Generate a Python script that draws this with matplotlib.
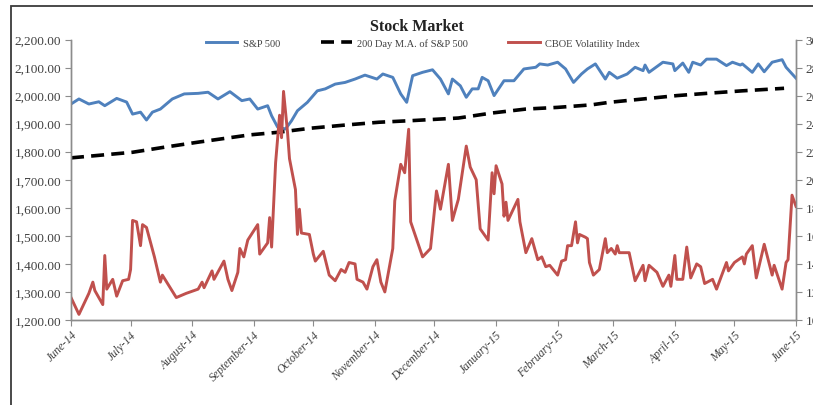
# Stock market: S&P 500, its 200 day moving average and the CBOE volatility index
import numpy as np
import matplotlib
matplotlib.use("Agg")
import matplotlib.pyplot as plt
import matplotlib.dates as mdates
from matplotlib.ticker import FuncFormatter, MultipleLocator
from matplotlib.patches import Rectangle

plt.rcParams['font.family'] = ['Liberation Serif', 'DejaVu Serif']

start = np.datetime64('2014-06-01')

# S&P 500 close (days since 1 June 2014)
sp_days = [0, 4, 9, 14, 17, 23, 28, 31, 35, 38, 41, 45, 51, 57, 64, 69, 74, 80, 86, 90,
           94, 99, 101, 104, 108, 111, 114, 119, 124, 128, 133, 138, 143, 148, 154, 157, 162, 166, 169, 172,
           177, 182, 186, 190, 192, 196, 199, 202, 205, 207, 210, 213, 218, 223, 228, 234, 236, 240, 245, 249,
           253, 257, 260, 264, 269, 271, 275, 280, 284, 288, 289, 291, 298, 303, 304, 308, 311, 313, 317, 320,
           325, 330, 333, 337, 338, 343, 346, 349, 353, 358, 360, 365]
sp_vals = [1970, 1988, 1970, 1978, 1964, 1990, 1977, 1934, 1941, 1913, 1941, 1952, 1988, 2006, 2008, 2012, 1988, 2014, 1982, 1988,
           1952, 1964, 1928, 1888, 1881, 1910, 1946, 1976, 2017, 2024, 2041, 2047, 2059, 2073, 2059, 2077, 2065, 2006, 1976, 2071,
           2083, 2092, 2059, 2006, 2059, 2035, 1994, 2024, 2024, 2065, 2053, 2000, 2053, 2053, 2095, 2101, 2113, 2109, 2119, 2095,
           2047, 2077, 2095, 2113, 2059, 2083, 2062, 2077, 2101, 2089, 2109, 2083, 2119, 2113, 2089, 2116, 2083, 2119, 2109, 2130,
           2130, 2107, 2119, 2109, 2113, 2083, 2113, 2085, 2119, 2128, 2101, 2062]

# 200 day moving average
ma_days = [0, 31, 47, 64, 78, 90, 104, 121, 138, 155, 172, 195, 212, 229, 245, 262, 271, 288, 305, 322, 338, 359]
ma_vals = [1778, 1798, 1816, 1834, 1848, 1860, 1869, 1884, 1895, 1905, 1911, 1920, 1938, 1952, 1958, 1967, 1976,
           1988, 2000, 2009, 2017, 2026]

# CBOE volatility index (right axis)
vix_days = [0, 4, 9, 11, 12, 16, 17, 18, 21, 23, 26, 29, 30, 31, 33, 35, 36, 38, 42, 45,
            46, 53, 58, 64, 66, 67, 71, 72, 77, 79, 81, 84, 85, 87, 89, 94, 95, 99, 100, 101,
            103, 105, 106, 107, 109, 110, 113, 114, 115, 116, 120, 122, 123, 127, 130, 133, 136, 138, 140, 143,
            144, 147, 149, 152, 154, 156, 158, 162, 163, 166, 167, 168, 170, 171, 177, 181, 184, 186, 190, 192,
            195, 199, 201, 204, 206, 210, 212, 213, 214, 217, 218, 219, 220, 225, 226, 229, 232, 235, 237, 239,
            241, 245, 247, 249, 250, 252, 254, 255, 256, 259, 260, 261, 263, 266, 269, 270, 272, 274, 275, 276,
            281, 284, 288, 289, 291, 295, 298, 301, 302, 304, 305, 308, 310, 312, 315, 317, 319, 323, 325, 330,
            331, 334, 338, 339, 340, 343, 345, 349, 353, 354, 358, 360, 361, 363, 365]
vix_vals = [11.6, 10.4, 11.9, 12.7, 12.1, 11.1, 14.6, 12.2, 12.9, 11.7, 12.8, 12.9, 13.6, 17.1, 17.0, 15.3, 16.8, 16.6, 14.5, 12.7,
            13.2, 11.6, 11.9, 12.2, 12.7, 12.3, 13.5, 12.9, 14.2, 12.9, 12.1, 13.4, 15.1, 14.5, 15.7, 16.8, 14.7, 15.5, 17.3, 15.2,
            21.2, 24.6, 23.0, 26.3, 23.4, 21.5, 19.3, 16.1, 17.9, 16.2, 16.1, 14.7, 14.2, 14.9, 13.2, 12.8, 13.6, 13.4, 14.1, 14.0,
            12.9, 12.7, 12.2, 13.8, 14.3, 12.7, 12.0, 15.1, 18.5, 21.1, 20.8, 20.5, 23.6, 17.0, 14.5, 15.1, 19.2, 17.9, 21.1, 17.1,
            18.6, 22.4, 20.9, 20.0, 16.5, 15.7, 20.5, 19.0, 21.0, 19.7, 17.4, 18.4, 17.1, 18.6, 17.0, 14.8, 15.8, 14.3, 14.5, 13.8,
            13.9, 13.2, 14.2, 14.3, 15.3, 15.3, 17.0, 15.5, 16.1, 15.9, 15.8, 14.1, 13.2, 13.6, 15.8, 14.8, 15.1, 14.7, 15.3, 14.8,
            14.8, 12.8, 13.9, 12.8, 13.9, 13.4, 12.4, 13.2, 12.4, 14.6, 12.9, 12.9, 15.2, 13.0, 14.0, 13.8, 12.6, 12.9, 12.2, 14.1,
            13.5, 14.1, 14.5, 14.0, 14.7, 15.3, 13.0, 15.4, 13.2, 13.9, 12.2, 14.1, 14.3, 18.9, 18.1]

sp_dates = start + np.array(sp_days)
ma_dates = start + np.array(ma_days)
vix_dates = start + np.array(vix_days)

blue = '#4F81BD'
red = '#C0504D'
grey = '#404040'
axis_grey = '#8C8C8C'

fig = plt.figure(figsize=(8.13, 4.06), dpi=100)
ax = fig.add_axes([71/813, 1-321/406, 725/813, 280.5/406])

l1, = ax.plot(sp_dates, sp_vals, color=blue, linewidth=2.1, label='S&P 500')
l2, = ax.plot(ma_dates, ma_vals, color='black', linewidth=2.6, dashes=(3.6, 2.0), label='200 Day M.A. of S&P 500')
ax.set_ylim(1200, 2200)
ax.yaxis.set_major_locator(MultipleLocator(100))
ax.yaxis.set_major_formatter(FuncFormatter(lambda v, p: '{:,.2f}'.format(v)))
ax.set_xlim(start, np.datetime64('2015-06-01'))
ax.xaxis.set_major_locator(mdates.MonthLocator())
ax.xaxis.set_major_formatter(mdates.DateFormatter('%B-%y'))

ax2 = ax.twinx()
l3, = ax2.plot(vix_dates, vix_vals, color=red, linewidth=2.1, label='CBOE Volatility Index')
ax2.set_ylim(10, 30)
ax2.yaxis.set_major_locator(MultipleLocator(2))
ax2.yaxis.set_major_formatter(FuncFormatter(lambda v, p: '{:.2f}'.format(v)))

for a in (ax, ax2):
    a.spines['top'].set_visible(False)
    for s in ('left', 'right', 'bottom'):
        a.spines[s].set_color(axis_grey)
        a.spines[s].set_linewidth(1.0)
    a.tick_params(axis='both', colors=axis_grey, length=4, width=0.8, labelcolor=grey)

ax.tick_params(axis='y', labelsize=9.5, pad=3)
ax2.tick_params(axis='y', labelsize=9.5, pad=3)
ax.tick_params(axis='x', labelsize=8.5, pad=2)
for lab in ax.get_xticklabels():
    lab.set_rotation(45)
    lab.set_ha('right')
    lab.set_rotation_mode('anchor')
    lab.set_style('italic')

fig.text(417/813, 1-27/406, 'Stock Market', ha='center', va='center',
         fontsize=11.5, fontweight='bold', color='#222222')
fig.legend(handles=[l1, l2, l3], loc='center', bbox_to_anchor=(423/813, 1-44/406),
           ncol=3, frameon=False, fontsize=7.5, handlelength=3.0, columnspacing=3.9,
           handletextpad=0.5, labelcolor=grey)

# chart frame
fig.patches.append(Rectangle((11/813, -0.1), 1.2, 1.1 - 7/406,
                             transform=fig.transFigure, fill=False,
                             edgecolor='#3A3A3A', linewidth=1.3))

fig.savefig('out.png', dpi=100)
